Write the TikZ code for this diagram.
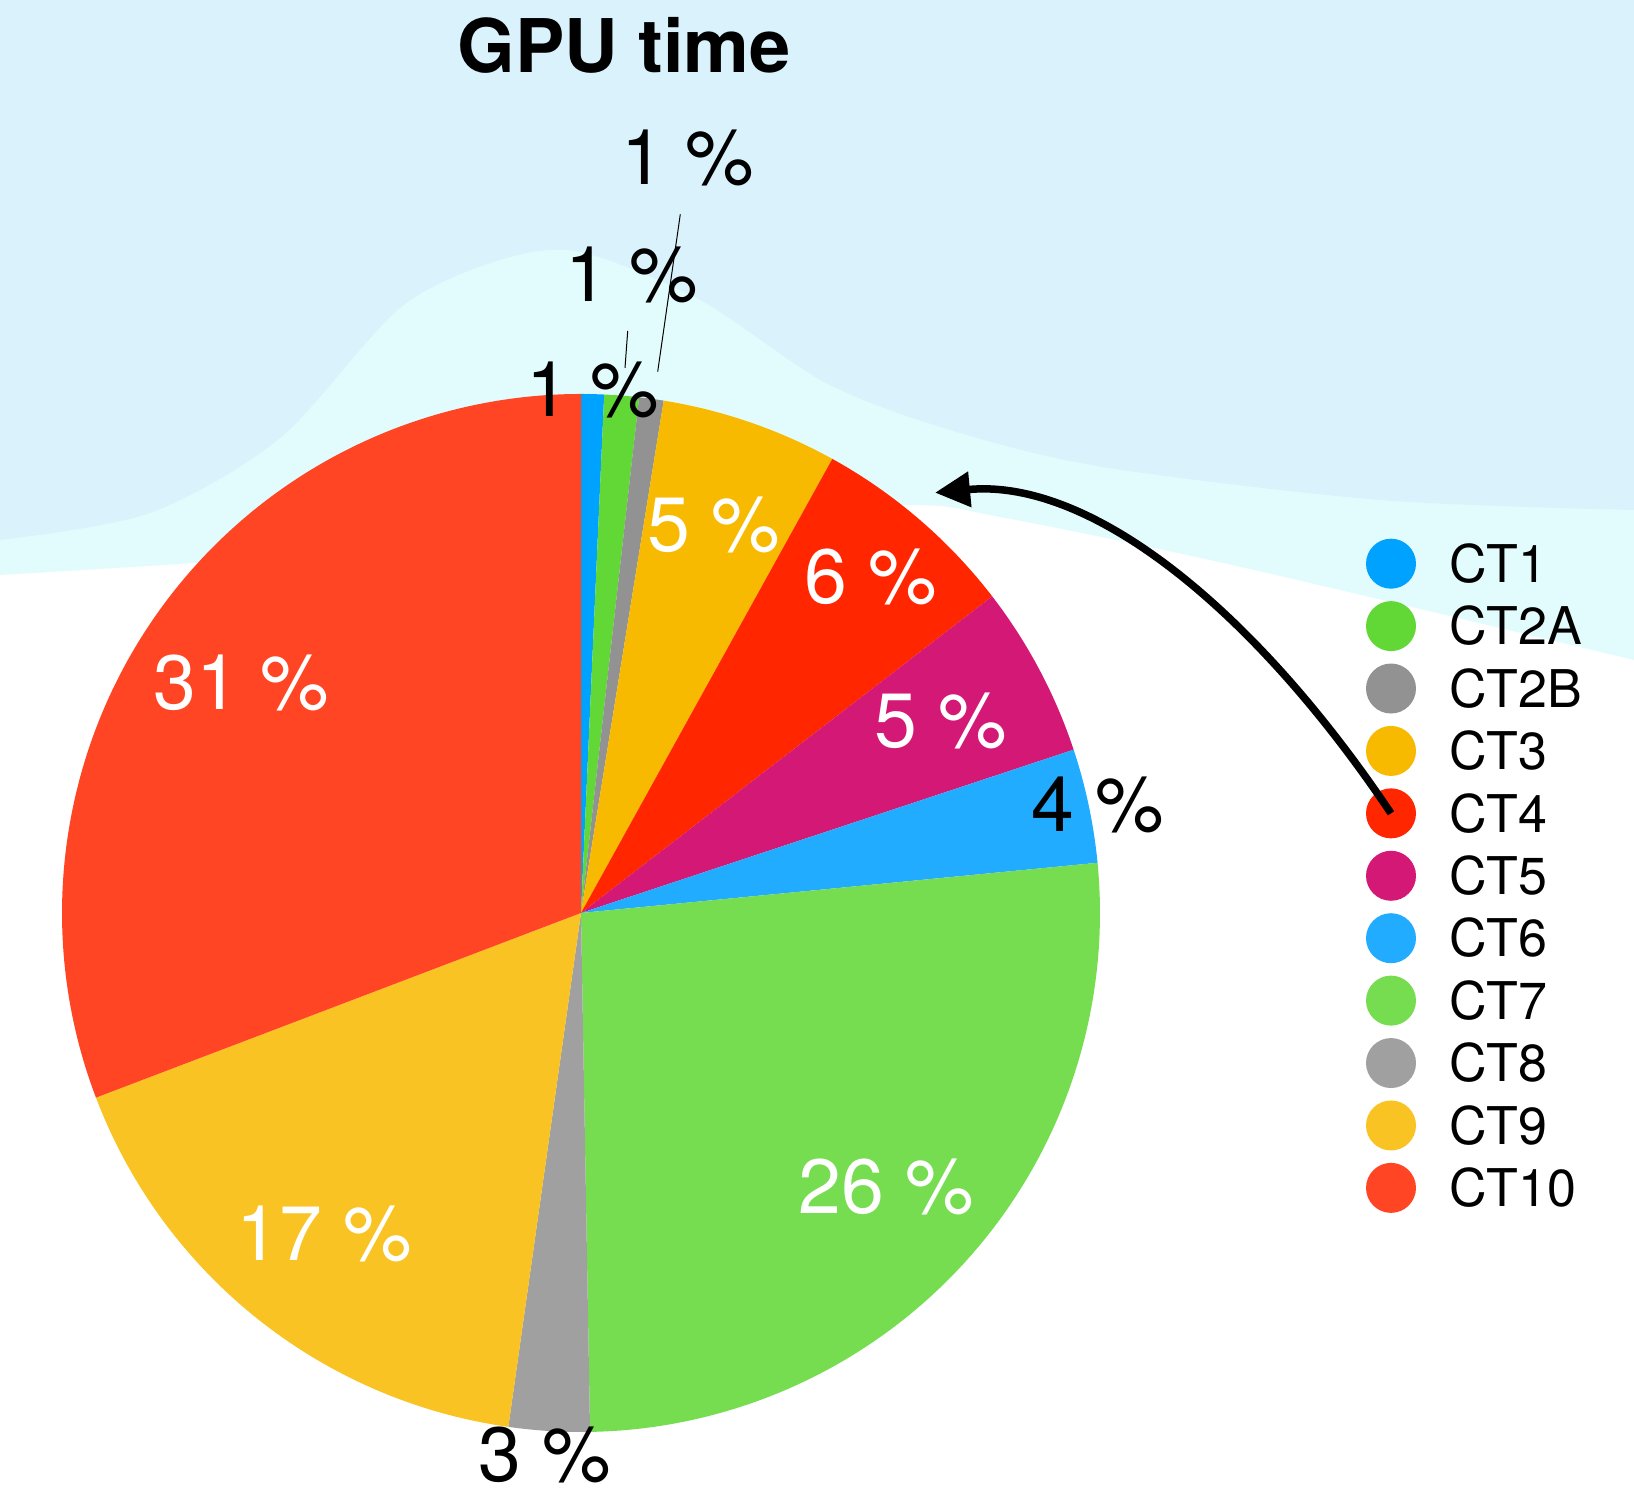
\documentclass[tikz,border=0pt]{standalone}
\usepackage{fontspec}
\setmainfont{TeX Gyre Heros}
\usetikzlibrary{calc}
\usetikzlibrary{math}
\usetikzlibrary{arrows.meta}

\tikzset{
  pct/.style={font=\fontsize{77}{80}\selectfont, anchor=base, inner sep=0pt},
  pct_in/.style={pct, text=white},
  key_dot/.style={circle, minimum size=50pt, inner sep=0pt},
  key_text/.style={font=\fontsize{52}{56}\selectfont, anchor=base west, inner sep=0pt},
  leader/.style={line width=1pt},
}

\begin{document}
\begin{tikzpicture}[x=1pt, y=1pt]
    \definecolor{skyBlue}{RGB}{217, 242, 252}
    \definecolor{skyCyan}{RGB}{226, 252, 253}
    \definecolor{ct1}{RGB}{0, 162, 255}
    \definecolor{ct2a}{RGB}{97, 216, 54}
    \definecolor{ct2b}{RGB}{146, 146, 146}
    \definecolor{ct3}{RGB}{248, 186, 0}
    \definecolor{ct4}{RGB}{255, 38, 0}
    \definecolor{ct5}{RGB}{212, 24, 118}
    \definecolor{ct6}{RGB}{34, 172, 255}
    \definecolor{ct7}{RGB}{118, 221, 80}
    \definecolor{ct8}{RGB}{160, 160, 160}
    \definecolor{ct9}{RGB}{249, 196, 35}
    \definecolor{ct10}{RGB}{255, 69, 35}

    \tikzmath {
        \pieR = 519;
        \keyX = 1391;
        \keyY = 934.3;
        \keyD = 62.42;
        \keyTx = 1449;
    }

    \useasboundingbox (0,0) rectangle (1634,1498);
    \fill[white] (0,0) rectangle (1634,1498);

    % sky bands behind the chart
    \fill[skyCyan] (0,1498) -- (0,923)
        -- plot[smooth] coordinates {(0,923) (300,943) (600,978) (900,993) (1000,981) (1241,931) (1634,838)}
        -- (1634,1498) -- cycle;
    \fill[skyBlue] (0,1498) -- (0,958)
        -- plot[smooth] coordinates {(0,958) (150,985) (280,1060) (400,1190) (500,1238)
            (580,1246) (700,1198) (826,1115) (950,1068) (1103,1031) (1380,998) (1634,988)}
        -- (1634,1498) -- cycle;

    \coordinate (pie_c) at (581,585);

    % slices, clockwise from the top (bearings in degrees)
    \foreach \from/\to/\col in {0/2.56/ct1, 2.56/6.43/ct2a, 6.43/9.17/ct2b, 9.17/28.96/ct3,
        28.96/52.4/ct4, 52.4/71.66/ct5, 71.66/84.45/ct6, 84.45/179/ct7,
        179/188.05/ct8, 188.05/249.16/ct9, 249.16/360/ct10}
    {
        \fill[\col] (pie_c) -- ($(pie_c) + (90-\from:\pieR)$)
            arc[start angle=90-\from, end angle=90-\to, radius=\pieR] -- cycle;
    }

    \node[font=\fontsize{74}{78}\selectfont\bfseries, anchor=base] (title) at (624,1425) {GPU time};

    % labels inside the slices
    \node[pct_in] (lab_ct10) at (241,788.5) {31 \%};
    \node[pct_in] (lab_ct9) at (324,237) {17 \%};
    \node[pct_in] (lab_ct7) at (886,284) {26 \%};
    \node[pct_in] (lab_ct3) at (714,946) {5 \%};
    \node[pct_in] (lab_ct4) at (871,894) {6 \%};
    \node[pct_in] (lab_ct5) at (941,750) {5 \%};

    % labels outside
    \node[pct] (lab_ct6) at (1098,666) {4 \%};
    \node[pct] (lab_ct8) at (545,16) {3 \%};
    \node[pct] (lab_ct1) at (592.5,1081) {1 \%};
    \node[pct] (lab_ct2a) at (631.7,1196) {1 \%};
    \node[pct] (lab_ct2b) at (687.5,1313) {1 \%};

    \coordinate (lead_a1) at (627.7,1167);
    \coordinate (lead_a2) at (625,1130);
    \coordinate (lead_b1) at (680.3,1283.7);
    \coordinate (lead_b2) at (657.7,1126.3);
    \draw[leader] (lead_a1) -- (lead_a2);
    \draw[leader] (lead_b1) -- (lead_b2);

    % legend
    \foreach \name/\col [count=\i from 0] in {CT1/ct1, CT2A/ct2a, CT2B/ct2b, CT3/ct3, CT4/ct4,
        CT5/ct5, CT6/ct6, CT7/ct7, CT8/ct8, CT9/ct9, CT10/ct10}
    {
        \node[key_dot, fill=\col] (dot\i) at (\keyX, \keyY - \i*\keyD) {};
        \node[key_text] (key\i) at (\keyTx, \keyY - \i*\keyD - 18.7) {\name};
    }

    \coordinate (arrow_tip) at (935,1005.3);
    \draw[line width=7.5pt, -{Triangle[length=35pt, width=34pt]}]
        (dot4.center) .. controls (1253,890.3) and (1090,1020) .. (arrow_tip);

\end{tikzpicture}
\end{document}
